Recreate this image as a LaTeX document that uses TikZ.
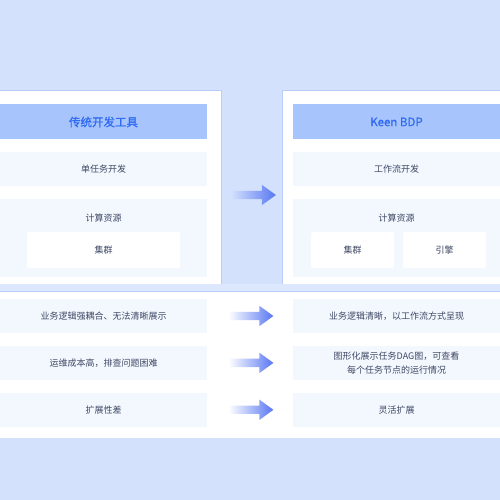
\documentclass[tikz,border=0pt]{standalone}
\usepackage{fontspec}
\setmainfont{Noto Sans CJK SC}
\newfontfamily\hdrfont{Noto Sans CJK SC}[FakeBold=0.9]
\usepackage{xcolor}
\usetikzlibrary{positioning,shapes.arrows}

\definecolor{bgblue}{HTML}{D4E1FC}
\definecolor{lineblue}{HTML}{BACDF9}
\definecolor{hdrblue}{HTML}{A8C4FC}
\definecolor{hdrtext}{HTML}{2F6BF2}
\definecolor{rowblue}{HTML}{F3F7FE}
\definecolor{txtgray}{HTML}{3E4864}
\definecolor{arrblue}{HTML}{5877F2}

\begin{document}
\begin{tikzpicture}[
  x=1pt, y=1pt,
  font=\fontsize{9}{13.5}\selectfont,
  node distance=12pt,
  hdr/.style={rectangle, fill=hdrblue, minimum width=207pt, minimum height=35pt, inner sep=0pt,
    text=hdrtext, font=\fontsize{11.5}{13}\hdrfont},
  row/.style={rectangle, fill=rowblue, minimum width=207pt, minimum height=34.5pt, inner sep=0pt,
    text=txtgray, align=center},
  resbox/.style={rectangle, fill=rowblue, minimum width=207pt, minimum height=78pt, inner sep=0pt},
  inbox/.style={rectangle, fill=white, rounded corners=1.5pt, minimum height=36pt, inner sep=0pt, text=txtgray},
  lbl/.style={text=txtgray, inner sep=0pt},
  arr/.style={single arrow, minimum height=45pt, inner sep=4pt, single arrow head extend=6pt,
    single arrow tip angle=72, right color=arrblue},
  panel/.style={fill=white, draw=lineblue, line width=0.6pt}
]
  \useasboundingbox (0,0) rectangle (500,500);
  \fill[bgblue] (0,0) rectangle (500,500);

  % panels
  \filldraw[panel] (-2,216) rectangle (221,410);
  \filldraw[panel] (282,216) rectangle (502,410);
  \fill[bgblue!80!white] (-2,209) rectangle (502,216);
  \fill[white] (-2,62) rectangle (502,209);
  \draw[lineblue, line width=0.8pt] (-2,209) -- (502,209);

  % old tool
  \node[hdr] (lhead) at (103.5,378) {传统开发工具};
  \node[row, below=of lhead] (ldev) {单任务开发};
  \node[resbox, below=of ldev] (lres) {};
  \node[lbl, below=15pt of lres.north] (lresl) {计算资源};
  \node[inbox, minimum width=153pt] (lclu) at (103.5,250) {集群};

  % keen bdp
  \node[hdr] (rhead) at (396.5,378) {Keen BDP};
  \node[row, below=of rhead] (rdev) {工作流开发};
  \node[resbox, below=of rdev] (rres) {};
  \node[lbl, below=15pt of rres.north] (rresl) {计算资源};
  \node[inbox, minimum width=83pt] (rclu) at (352.5,250) {集群};
  \node[inbox, minimum width=83pt] (reng) at (444.5,250) {引擎};

  \node[arr, left color=bgblue] (atop) at (250.5,305) {};

  % comparison rows
  \node[row] (l1) at (103.5,184) {业务逻辑强耦合、无法清晰展示};
  \node[row, below=of l1] (l2) {运维成本高，排查问题困难};
  \node[row, below=of l2] (l3) {扩展性差};
  \node[row] (r1) at (396.5,184) {业务逻辑清晰，以工作流方式呈现};
  \node[row, below=of r1] (r2) {图形化展示任务DAG图，可查看\\每个任务节点的运行情况};
  \node[row, below=of r2] (r3) {灵活扩展};

  \foreach \n in {1,2,3}
    \node[arr, left color=white, right=21pt of l\n] (a\n) {};
\end{tikzpicture}
\end{document}
